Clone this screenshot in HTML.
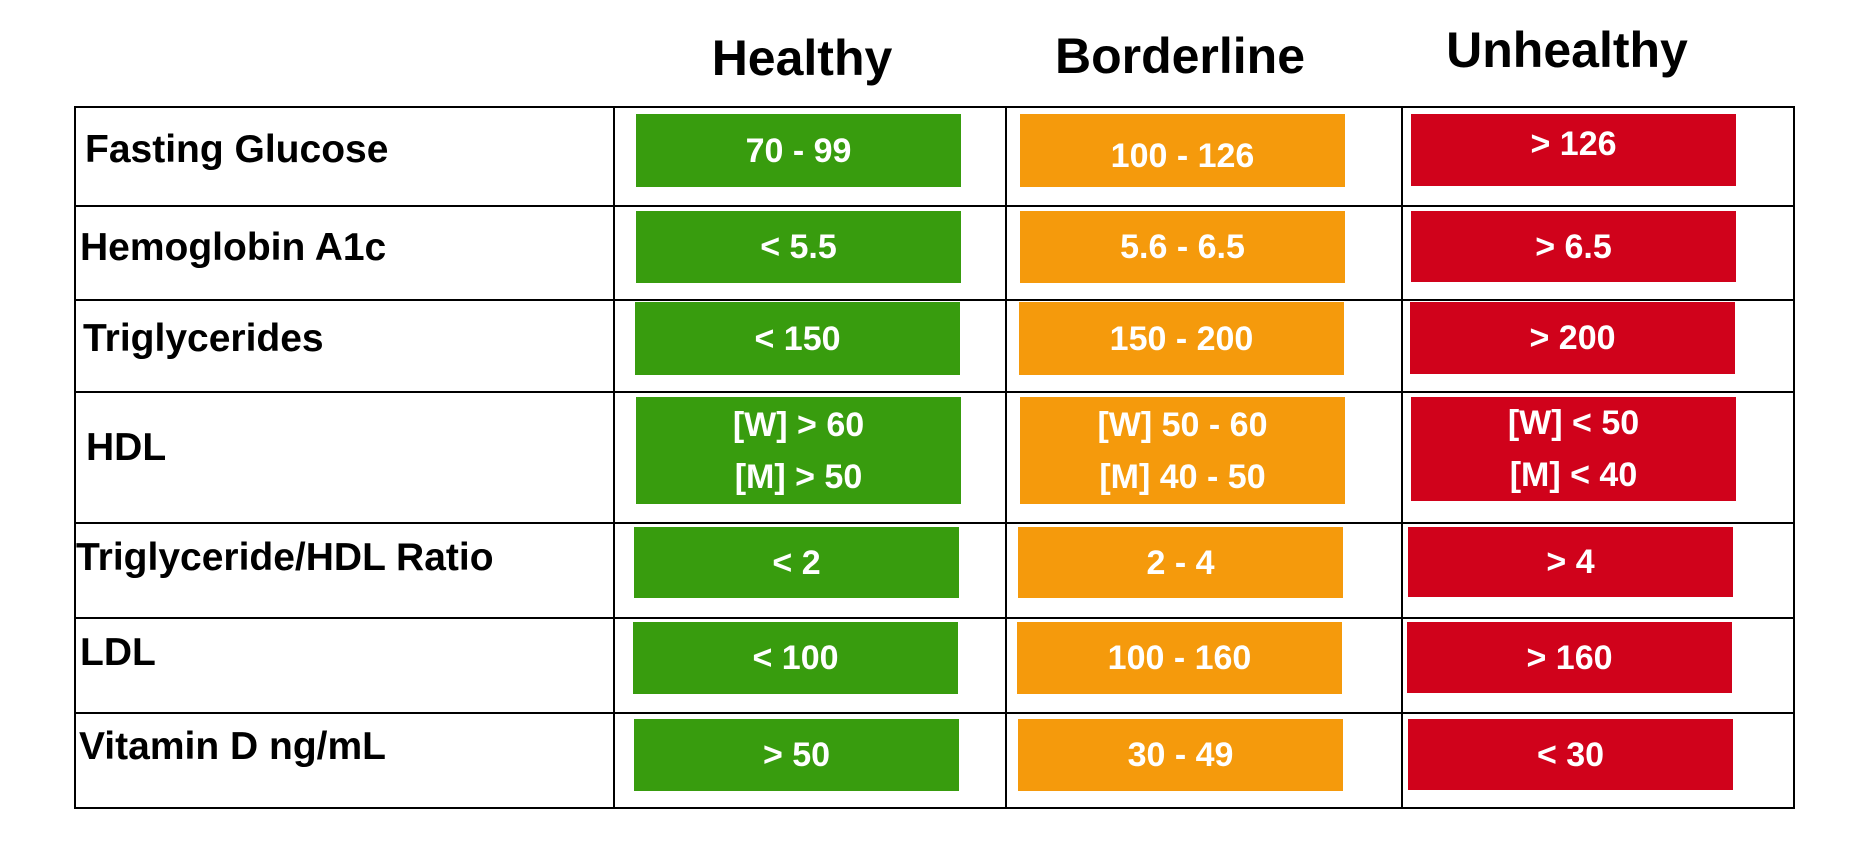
<!DOCTYPE html>
<html><head><meta charset="utf-8"><style>
body{margin:0;width:1850px;height:850px;background:#fff;position:relative;overflow:hidden;font-family:"Liberation Sans",sans-serif;font-weight:bold}
.h{position:absolute;font-size:50px;color:#000;transform:translate(-50%,-50%);white-space:nowrap}
.l{position:absolute;font-size:39px;color:#000;transform:translateY(-50%);white-space:nowrap}
.ln{position:absolute;background:#000}
.b{position:absolute;color:#fff;font-size:34px;display:flex;align-items:center;justify-content:center;text-align:center;line-height:52px}
.g{background:#389c0e}.o{background:#f59a0c}.r{background:#d0021b}
</style></head><body>
<div class="h" style="left:802px;top:58px">Healthy</div>
<div class="h" style="left:1180px;top:56px">Borderline</div>
<div class="h" style="left:1567px;top:50px">Unhealthy</div>

<div class="ln" style="left:74px;top:106px;width:1721px;height:2px"></div>
<div class="ln" style="left:74px;top:205px;width:1721px;height:2px"></div>
<div class="ln" style="left:74px;top:299px;width:1721px;height:2px"></div>
<div class="ln" style="left:74px;top:391px;width:1721px;height:2px"></div>
<div class="ln" style="left:74px;top:522px;width:1721px;height:2px"></div>
<div class="ln" style="left:74px;top:617px;width:1721px;height:2px"></div>
<div class="ln" style="left:74px;top:712px;width:1721px;height:2px"></div>
<div class="ln" style="left:74px;top:807px;width:1721px;height:2px"></div>
<div class="ln" style="left:74px;top:106px;width:2px;height:703px"></div>
<div class="ln" style="left:613px;top:106px;width:2px;height:703px"></div>
<div class="ln" style="left:1005px;top:106px;width:2px;height:703px"></div>
<div class="ln" style="left:1401px;top:106px;width:2px;height:703px"></div>
<div class="ln" style="left:1793px;top:106px;width:2px;height:703px"></div>

<div class="l" style="left:85px;top:150px">Fasting Glucose</div>
<div class="l" style="left:80px;top:248px">Hemoglobin A1c</div>
<div class="l" style="left:83px;top:339px">Triglycerides</div>
<div class="l" style="left:86px;top:448px">HDL</div>
<div class="l" style="left:76px;top:558px">Triglyceride/HDL Ratio</div>
<div class="l" style="left:80px;top:653px">LDL</div>
<div class="l" style="left:79px;top:747px">Vitamin D ng/mL</div>

<div class="b g" style="left:636px;top:114px;width:325px;height:73px">70 - 99</div>
<div class="b o" style="left:1020px;top:114px;width:325px;height:73px;padding-top:10px;box-sizing:border-box">100 - 126</div>
<div class="b r" style="left:1411px;top:114px;width:325px;height:72px;padding-bottom:12px;box-sizing:border-box">&gt; 126</div>

<div class="b g" style="left:636px;top:211px;width:325px;height:72px">&lt; 5.5</div>
<div class="b o" style="left:1020px;top:211px;width:325px;height:72px">5.6 - 6.5</div>
<div class="b r" style="left:1411px;top:211px;width:325px;height:71px">&gt; 6.5</div>

<div class="b g" style="left:635px;top:302px;width:325px;height:73px">&lt; 150</div>
<div class="b o" style="left:1019px;top:302px;width:325px;height:73px">150 - 200</div>
<div class="b r" style="left:1410px;top:302px;width:325px;height:72px">&gt; 200</div>

<div class="b g" style="left:636px;top:397px;width:325px;height:107px">[W] &gt; 60<br>[M] &gt; 50</div>
<div class="b o" style="left:1020px;top:397px;width:325px;height:107px">[W] 50 - 60<br>[M] 40 - 50</div>
<div class="b r" style="left:1411px;top:397px;width:325px;height:104px">[W] &lt; 50<br>[M] &lt; 40</div>

<div class="b g" style="left:634px;top:527px;width:325px;height:71px">&lt; 2</div>
<div class="b o" style="left:1018px;top:527px;width:325px;height:71px">2 - 4</div>
<div class="b r" style="left:1408px;top:527px;width:325px;height:70px">&gt; 4</div>

<div class="b g" style="left:633px;top:622px;width:325px;height:72px">&lt; 100</div>
<div class="b o" style="left:1017px;top:622px;width:325px;height:72px">100 - 160</div>
<div class="b r" style="left:1407px;top:622px;width:325px;height:71px">&gt; 160</div>

<div class="b g" style="left:634px;top:719px;width:325px;height:72px">&gt; 50</div>
<div class="b o" style="left:1018px;top:719px;width:325px;height:72px">30 - 49</div>
<div class="b r" style="left:1408px;top:719px;width:325px;height:71px">&lt; 30</div>
</body></html>
